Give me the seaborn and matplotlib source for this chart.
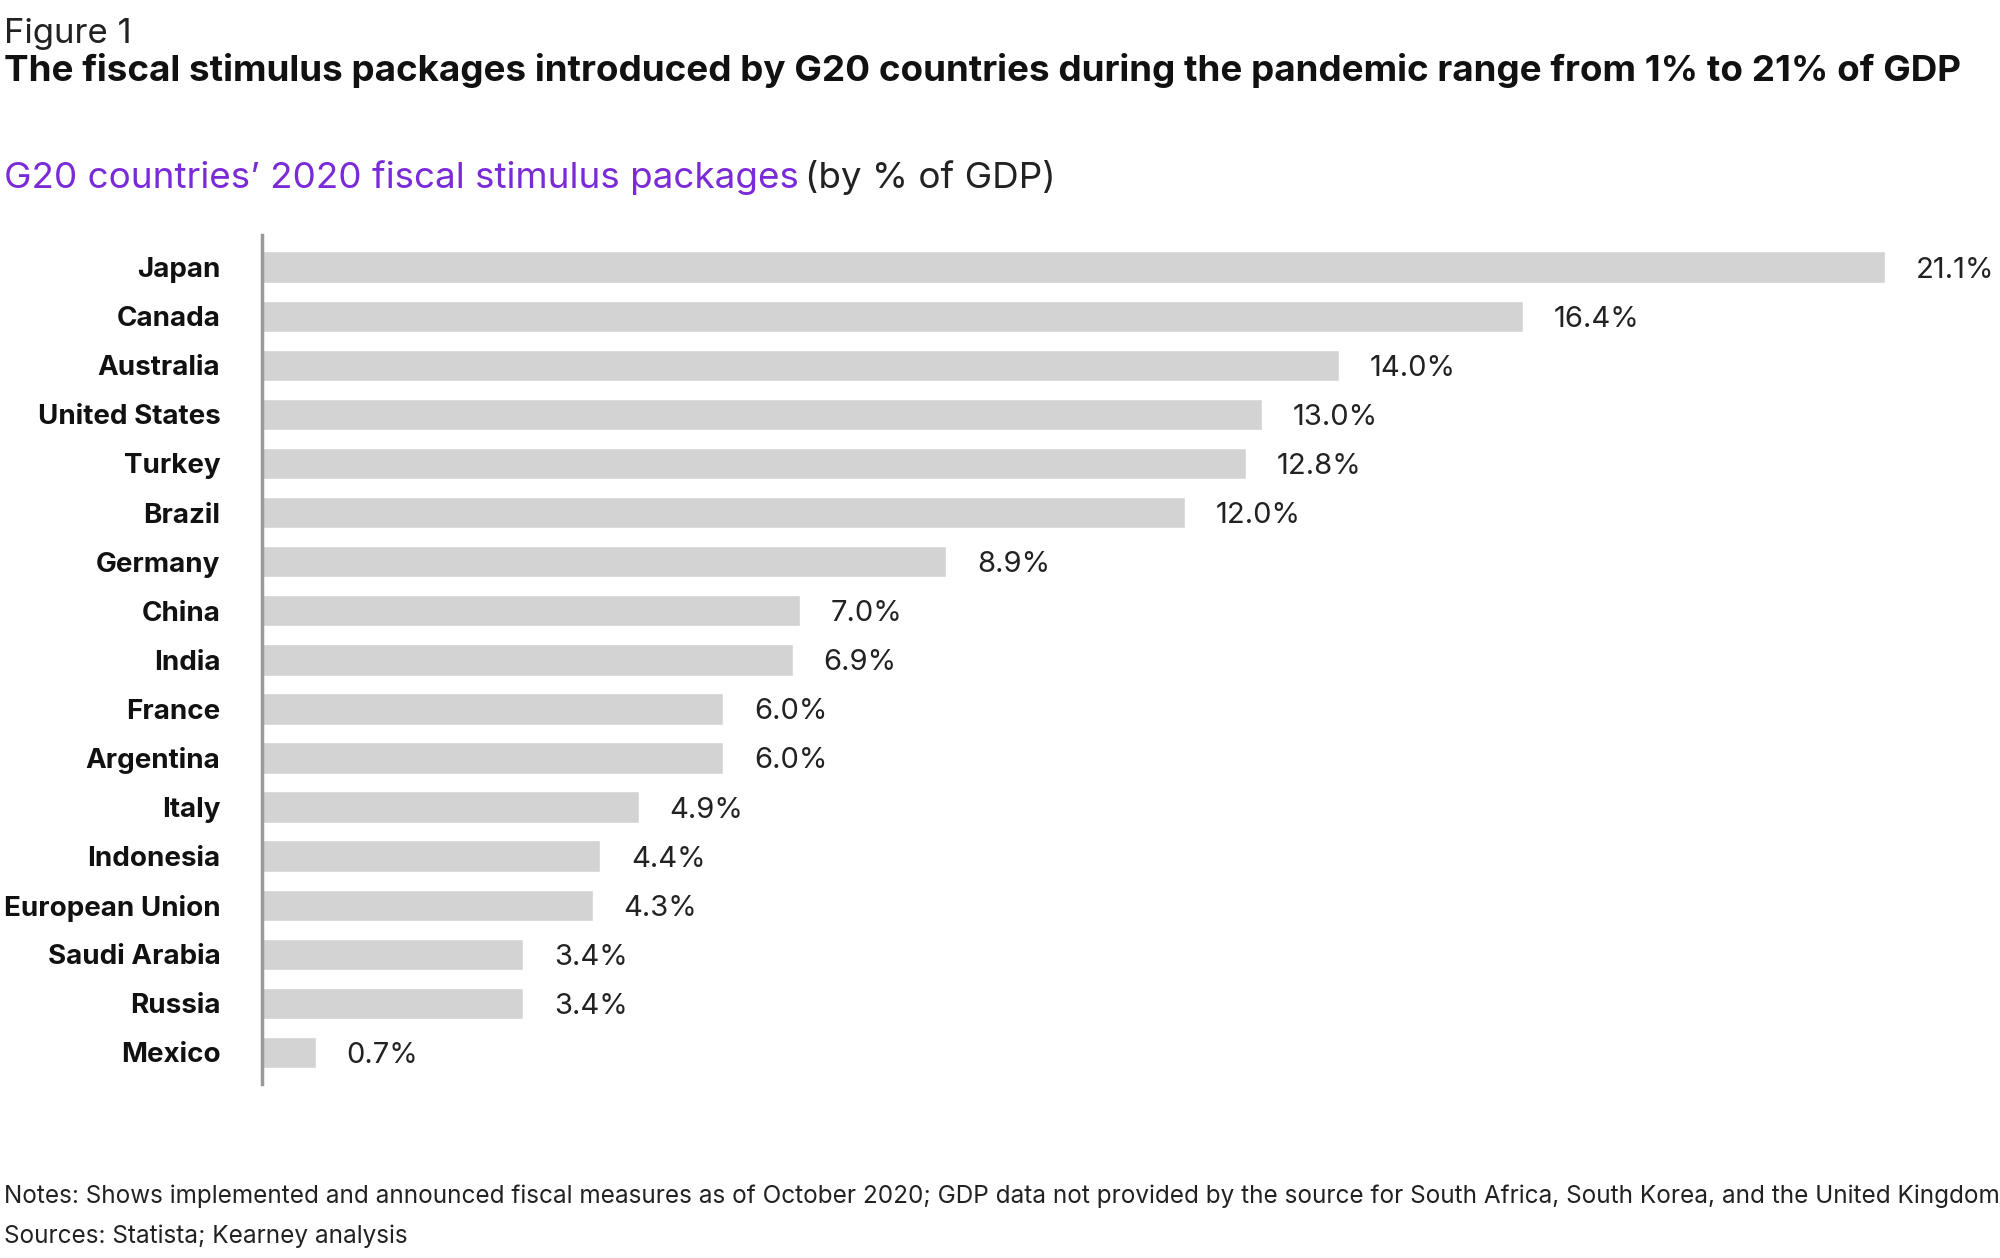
import matplotlib
matplotlib.use("Agg")
import matplotlib.pyplot as plt
import seaborn as sns
import pandas as pd

sns.set_theme(style="white")
plt.rcParams["font.family"] = ["Inter", "DejaVu Sans"]

countries = ["Japan", "Canada", "Australia", "United States", "Turkey", "Brazil",
             "Germany", "China", "India", "France", "Argentina", "Italy",
             "Indonesia", "European Union", "Saudi Arabia", "Russia", "Mexico"]
values = [21.1, 16.4, 14.0, 13.0, 12.8, 12.0, 8.9, 7.0, 6.9, 6.0, 6.0, 4.9,
          4.4, 4.3, 3.4, 3.4, 0.7]
df = pd.DataFrame({"country": countries, "value": values})

fig = plt.figure(figsize=(20, 12.58), dpi=100)
ax = fig.add_axes([0.131, 0.138, 0.869, 0.675])
sns.barplot(data=df, x="value", y="country", color="#d3d3d3", width=0.64,
            saturation=1, ax=ax)
ax.set_xlim(0, 22.6)
ax.set_ylim(16.65, -0.65)
ax.set_xlabel("")
ax.set_ylabel("")
ax.set_xticks([])
for s in ["top", "right", "bottom"]:
    ax.spines[s].set_visible(False)
ax.spines["left"].set_color("#999999")
ax.spines["left"].set_linewidth(2.5)
ax.tick_params(axis="y", length=0, pad=30)
for lbl in ax.get_yticklabels():
    lbl.set_fontsize(20)
    lbl.set_fontweight("bold")
    lbl.set_color("#111111")
    lbl.set_va("center_baseline")
for i, v in enumerate(values):
    ax.text(v + 0.4, i, f"{v:.1f}%", va="center_baseline", ha="left", fontsize=21,
            color="#222222")

fig.text(0.002, 0.986, "Figure 1", fontsize=25, color="#222222", va="top")
fig.text(0.002, 0.944, "The fiscal stimulus packages introduced by G20 countries during the pandemic range from 1% to 21% of GDP",
         fontsize=26.5, fontweight="bold", color="#111111", va="center")
t1 = fig.text(0.002, 0.859, "G20 countries\u2019 2020 fiscal stimulus packages", fontsize=26.5,
              color="#7b2ad8", va="center")
fig.canvas.draw()
bb = t1.get_window_extent().transformed(fig.transFigure.inverted())
fig.text(bb.x1 + 0.003, 0.859, "(by % of GDP)", fontsize=26.5, color="#222222", va="center")
fig.text(0.002, 0.049, "Notes: Shows implemented and announced fiscal measures as of October 2020; GDP data not provided by the source for South Africa, South Korea, and the United Kingdom",
         fontsize=17.5, color="#222222", va="center")
fig.text(0.002, 0.017, "Sources: Statista; Kearney analysis", fontsize=17.5,
         color="#222222", va="center")

fig.savefig("out.png", dpi=100)
